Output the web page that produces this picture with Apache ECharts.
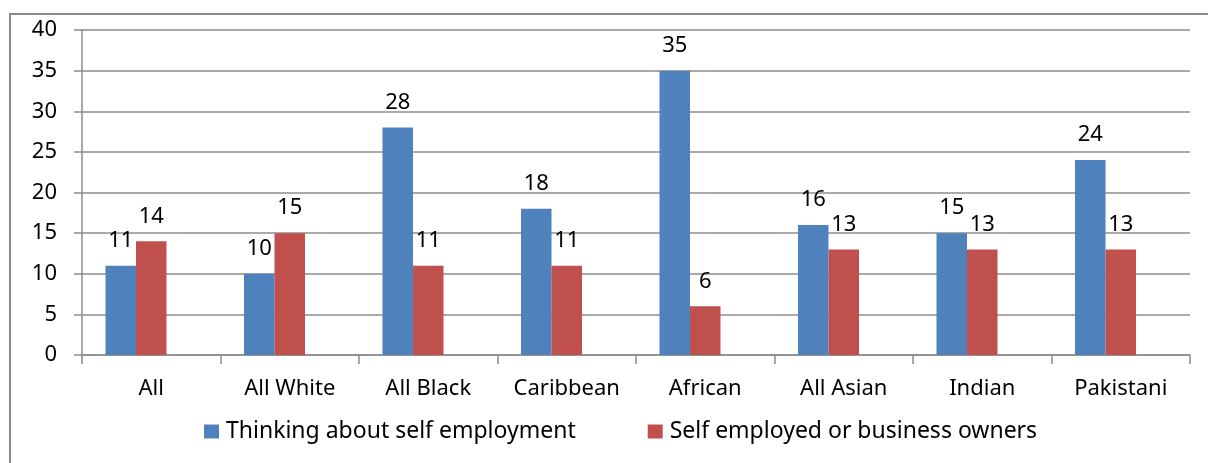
<!DOCTYPE html>
<html>
<head>
<meta charset="utf-8">
<script src="https://cdn.jsdelivr.net/npm/echarts@6/dist/echarts.min.js"></script>
<style>
html,body{margin:0;padding:0;background:#fff;}
#chart{width:1208px;height:463px;}
</style>
</head>
<body>
<div id="chart"></div>
<script>
const categories = ['All','All White','All Black','Caribbean','African','All Asian','Indian','Pakistani'];
const thinkingValues = [11,10,28,18,35,16,15,24];
const selfEmployedValues = [14,15,11,11,6,13,13,13];
const emptyValues = [null,null,null,null,null,null,null,null];
const seriesNames = ['Thinking about self employment','Self employed or business owners'];

const FONT = 'Noto Sans';
const chart = echarts.init(document.getElementById('chart'));
const labelStyle = {show:true, position:'top', distance:14, color:'#000', fontSize:22, fontFamily:FONT};
chart.setOption({
  animation:false,
  textStyle:{fontFamily:FONT},
  graphic:[{type:'rect', shape:{x:10, y:14, width:1210, height:470}, style:{fill:'none', stroke:'#898989', lineWidth:2}, silent:true}],
  grid:{left:82, right:18, top:30, bottom:108},
  legend:{
    data:seriesNames, bottom:15, left:199, icon:'rect', itemWidth:15, itemHeight:14, itemGap:72,
    textStyle:{fontSize:23, color:'#000', fontFamily:FONT, padding:[0,0,0,2]}
  },
  xAxis:{
    type:'category', data:categories,
    axisLine:{lineStyle:{color:'#8c8c8c', width:1.5}},
    axisTick:{show:true, length:9, lineStyle:{color:'#8c8c8c', width:1.5}},
    axisLabel:{color:'#000', fontSize:22, fontFamily:FONT, margin:23}
  },
  yAxis:{
    type:'value', min:0, max:40, interval:5,
    axisLine:{show:true, lineStyle:{color:'#8c8c8c', width:1.5}},
    axisTick:{show:true, length:8, lineStyle:{color:'#8c8c8c', width:1.5}},
    axisLabel:{color:'#000', fontSize:22, fontFamily:FONT, margin:25},
    splitLine:{lineStyle:{color:'#8c8c8c', width:1.5}}
  },
  series:[
    {name:seriesNames[0], type:'bar', data:thinkingValues, barWidth:30.5, barGap:'0%', itemStyle:{color:'#4F81BD'}, label:labelStyle},
    {name:seriesNames[1], type:'bar', data:selfEmployedValues, barWidth:30.5, barGap:'0%', itemStyle:{color:'#C0504D'}, label:labelStyle},
    {name:'placeholder', type:'bar', data:emptyValues, barWidth:30.5, barGap:'0%', itemStyle:{color:'#9BBB59'}}
  ]
});
</script>
</body>
</html>
